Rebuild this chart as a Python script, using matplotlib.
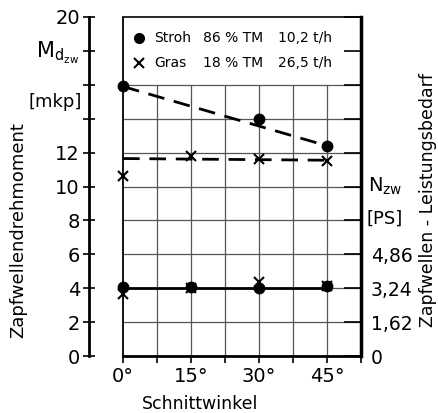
import numpy as np
import matplotlib
matplotlib.use('Agg')
import matplotlib.pyplot as plt

# Schnittwinkel [grad]
winkel = [0, 15, 30, 45]

# Drehmoment Stroh / Gras [mkp]
strohM_x = [0, 30, 45]
strohM = [15.9, 14.0, 12.4]
strohM_fit = [15.9, 12.4]
grasM = [10.6, 11.8, 11.65, 11.5]
grasM_fit = [11.65, 11.55]

# Leistung (auf linker Skala aufgetragen)
strohN = [4.1, 4.1, 4.0, 4.15]
grasN = [3.65, 4.0, 4.35, 4.15]
N_fit = [4.0, 4.0]
fit_x = [0, 45]

yticks = np.arange(0, 21, 2)
ylabels_left = ['0', '2', '4', '6', '8', '10', '12', '', '', '', '20']
ylabels_right = ['0', '1,62', '3,24', '4,86', '', '', '', '', '', '', '']
xticks = np.arange(0, 53, 7.5)
xlabels = ['0°', '', '15°', '', '30°', '', '45°', '']

plt.rcParams.update({'font.size': 14, 'font.family': 'DejaVu Sans'})

fig = plt.figure(figsize=(4.38, 4.13), dpi=100)
ax = fig.add_axes([89/438, 57/413, 272/438, 339/413])
ax.set_xlim(-7.5, 52.5)
ax.set_ylim(0, 20)

# Gitter
ax.hlines(np.arange(2, 17, 2), 0, 52.5, color='#555555', lw=0.9, zorder=1)
ax.vlines(xticks[1:7], 0, 16, color='#555555', lw=0.9, zorder=1)
ax.vlines(0, 0, 20, color='k', lw=1.3, zorder=1)

# Messwerte
ax.plot(fit_x, strohM_fit, color='k', lw=2, dashes=[6, 3.5], zorder=3)
ax.plot(fit_x, grasM_fit, color='k', lw=2, dashes=[6, 3.5], zorder=3)
ax.plot(fit_x, N_fit, color='k', lw=2, zorder=3)
ax.plot(strohM_x, strohM, 'o', color='k', ms=7.5, zorder=4, clip_on=False)
ax.plot(winkel, strohN, 'o', color='k', ms=7.5, zorder=4, clip_on=False)
ax.plot(winkel, grasM, 'x', color='k', ms=7, mew=1.5, zorder=5, clip_on=False)
ax.plot(winkel, grasN, 'x', color='k', ms=7, mew=1.5, zorder=5, clip_on=False)

# Legende
ax.plot(3.6, 18.75, 'o', color='k', ms=7)
ax.plot(3.6, 17.3, 'x', color='k', ms=7, mew=1.5)
ax.text(6.9, 18.75, 'Stroh', fontsize=10, va='center')
ax.text(17.6, 18.75, '86 % TM', fontsize=10, va='center')
ax.text(34.1, 18.75, '10,2 t/h', fontsize=10, va='center')
ax.text(6.9, 17.3, 'Gras', fontsize=10, va='center')
ax.text(17.6, 17.3, '18 % TM', fontsize=10, va='center')
ax.text(34.1, 17.3, '26,5 t/h', fontsize=10, va='center')

# Achsen
ax.spines['right'].set_visible(False)
ax.spines['top'].set_bounds(0, 52.5)
ax.spines['top'].set_linewidth(1.2)
ax.spines['bottom'].set_bounds(0, 52.5)
ax.spines['bottom'].set_linewidth(2)
ax.spines['left'].set_linewidth(2)

ax.set_xticks(xticks)
ax.set_xticklabels(xlabels)
ax.tick_params(axis='x', direction='out', length=5, width=1.2, pad=3, labelsize=14)
ax.set_yticks(yticks)
ax.set_yticklabels(ylabels_left)
ax.tick_params(axis='y', direction='inout', length=9, width=1.2, pad=2, labelsize=14)

ax2 = ax.twinx()
ax2.set_ylim(0, 20)
for s in ['top', 'left', 'bottom']:
	ax2.spines[s].set_visible(False)
ax2.spines['right'].set_linewidth(2.5)
ax2.set_yticks(yticks)
ax2.set_yticklabels(ylabels_right)
ax2.tick_params(axis='y', direction='in', length=12, width=1.2, pad=7, labelsize=13.5)

tr = ax.get_yaxis_transform()
ax.text(-0.195, 17.9, r'$\mathregular{M_{d_{zw}}}$', fontsize=15, transform=tr, ha='left', va='center')
ax.text(-0.025, 15.0, '[mkp]', fontsize=13, transform=tr, ha='right', va='center')
ax.text(1.025, 10.0, r'$\mathregular{N_{zw}}$', fontsize=14, transform=tr, ha='left', va='center')
ax.text(1.02, 8.1, '[PS]', fontsize=13, transform=tr, ha='left', va='center')

fig.text(18/438, 1 - 230/413, 'Zapfwellendrehmoment', rotation=90, fontsize=13, ha='center', va='center')
fig.text(428/438, 1 - 200/413, 'Zapfwellen - Leistungsbedarf', rotation=90, fontsize=12.5, ha='center', va='center')
fig.text(200/438, 1 - 404/413, 'Schnittwinkel', fontsize=12.5, ha='center', va='center')

plt.savefig('out.png', dpi=100)
